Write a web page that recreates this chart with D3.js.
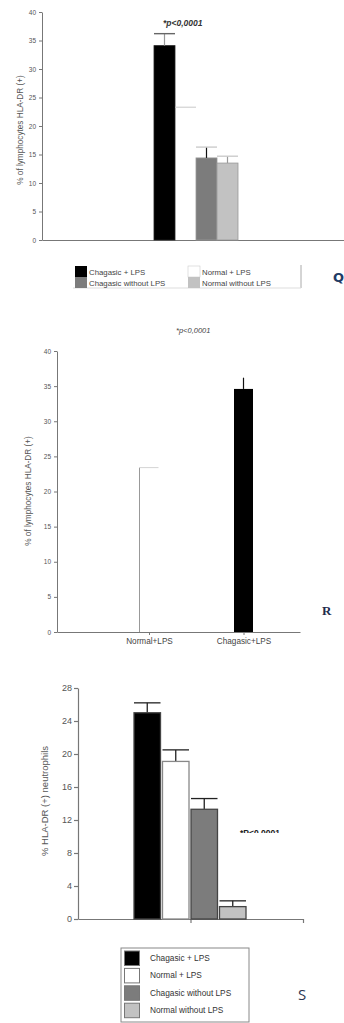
<!DOCTYPE html>
<html>
<head>
<meta charset="utf-8">
<script src="https://cdn.jsdelivr.net/npm/d3@7"></script>
<style>
  body { margin: 0; background: #fff; }
  svg { display: block; font-family: "Liberation Sans", Arial, sans-serif; }
</style>
</head>
<body>
<div id="chart"></div>
<script>
// --- data ---
const series = ["Chagasic + LPS", "Normal + LPS", "Chagasic without LPS", "Normal without LPS"];

// panel Q: lymphocytes
const meanQ = [34.1, 23.3, 14.4, 13.5];
const errQ = [36.2, null, 16.3, 14.7];
const ticksQ = [0, 5, 10, 15, 20, 25, 30, 35, 40];

// panel R
const catsR = ["Normal+LPS", "Chagasic+LPS"];
const meanR = [23.4, 34.6];
const errR = [null, 36.2];
const ticksR = [0, 5, 10, 15, 20, 25, 30, 35, 40];

// panel S: neutrophils
const meanS = [25.0, 19.1, 13.3, 1.5];
const errS = [26.2, 20.5, 14.6, 2.2];
const ticksS = [0, 4, 8, 12, 16, 20, 24, 28];

const fills = ["#000", "#fff", "#7c7c7c", "#c2c2c2"];
const axisCol = "#777";
const txtCol = "#555";

const svg = d3.select("#chart").append("svg")
  .attr("width", 344).attr("height", 1023);

function yAxis(g, y, ticks, fs) {
  g.call(d3.axisLeft(y).tickValues(ticks).tickSize(3).tickSizeOuter(0))
  g.select(".domain").attr("stroke", axisCol);
  g.selectAll(".tick line").attr("stroke", axisCol);
  g.selectAll(".tick text").attr("fill", txtCol).attr("font-size", fs)
    .attr("font-family", "Liberation Sans, Arial, sans-serif");
}

// ================= Q =================
{
  const y = d3.scaleLinear().domain([0, 40]).range([240, 12]);
  const x = d3.scaleBand().domain(series).range([154, 238]);
  const xl = d3.scaleLinear().domain([0, 1]).range([42, 344]);

  svg.append("g").attr("transform", "translate(42,0)").call(g => yAxis(g, y, ticksQ, 6.5));
  svg.append("g").attr("transform", "translate(0,240)")
    .call(d3.axisBottom(xl).tickValues([]).tickSizeOuter(0))
    .call(g => g.select(".domain").attr("stroke", axisCol));

  const bw = x.bandwidth();
  series.forEach((s, i) => {
    if (i === 1) {
      // white bar: only its top edge shows
      svg.append("line").attr("x1", x(s)).attr("x2", x(s) + bw)
        .attr("y1", y(meanQ[i])).attr("y2", y(meanQ[i])).attr("stroke", "#c8c8c8");
      return;
    }
    svg.append("rect").attr("x", x(s)).attr("y", y(meanQ[i]))
      .attr("width", bw).attr("height", y(0) - y(meanQ[i]))
      .attr("fill", fills[i]).attr("stroke", i === 0 ? "#222" : "#999").attr("stroke-width", 0.8);
    if (errQ[i] != null) {
      const cx = x(s) + bw / 2;
      svg.append("line").attr("x1", cx).attr("x2", cx)
        .attr("y1", y(meanQ[i])).attr("y2", y(errQ[i]))
        .attr("stroke", i === 2 ? "#111" : "#999").attr("stroke-width", 1.2);
      svg.append("line").attr("x1", x(s)).attr("x2", x(s) + bw)
        .attr("y1", y(errQ[i])).attr("y2", y(errQ[i]))
        .attr("stroke", i === 0 ? "#666" : "#ccc").attr("stroke-width", 1.4);
    }
  });

  svg.append("text").attr("x", 163).attr("y", 26)
    .attr("font-size", 8.5).attr("font-weight", "bold").attr("font-style", "italic")
    .attr("fill", "#333").text("*p<0,0001");

  svg.append("text").attr("transform", "translate(23,130) rotate(-90)")
    .attr("text-anchor", "middle").attr("font-size", 8.2).attr("fill", txtCol)
    .text("% of lymphocytes HLA-DR (+)");

  // legend
  const lg = svg.append("g");
  lg.append("line").attr("x1", 301).attr("x2", 301).attr("y1", 265).attr("y2", 288).attr("stroke", "#aaa");
  lg.append("line").attr("x1", 73).attr("x2", 301).attr("y1", 288).attr("y2", 288).attr("stroke", "#ddd");
  const pos = [[75, 266], [188, 266], [75, 277], [188, 277]];
  series.forEach((s, i) => {
    const [px, py] = pos[i];
    lg.append("rect").attr("x", px).attr("y", py).attr("width", 12).attr("height", 11)
      .attr("fill", fills[i]).attr("stroke", i === 1 ? "#ccc" : "none").attr("stroke-width", 0.6);
    lg.append("text").attr("x", px + 14).attr("y", py + 8.5)
      .attr("font-size", 7.8).attr("fill", "#444").text(s);
  });
  svg.append("text").attr("x", 333).attr("y", 282).attr("font-size", 13)
    .attr("font-weight", "bold").attr("fill", "#1f3b66")
    .attr("font-family", "DejaVu Sans, sans-serif").text("Q");
}

// ================= R =================
{
  const y = d3.scaleLinear().domain([0, 40]).range([632, 351]);
  const x = d3.scalePoint().domain(catsR).range([149, 243.5]);
  const xl = d3.scaleLinear().domain([0, 1]).range([57, 300]);
  const bw = 19;

  svg.append("g").attr("transform", "translate(57,0)").call(g => yAxis(g, y, ticksR, 6.5));
  svg.append("g").attr("transform", "translate(0,632)")
    .call(d3.axisBottom(xl).tickValues([]).tickSizeOuter(0))
    .call(g => g.select(".domain").attr("stroke", axisCol));
  svg.append("g").attr("transform", "translate(0,632)")
    .call(d3.axisBottom(x).tickSize(3).tickPadding(3))
    .call(g => {
      g.select(".domain").remove();
      g.selectAll(".tick line").attr("stroke", axisCol);
      g.selectAll(".tick text").attr("font-size", 8.2).attr("fill", "#444")
        .attr("font-family", "Liberation Sans, Arial, sans-serif");
    });

  catsR.forEach((c, i) => {
    const x0 = x(c) - bw / 2;
    if (i === 0) {
      svg.append("line").attr("x1", x0).attr("x2", x0).attr("y1", y(0)).attr("y2", y(meanR[i]))
        .attr("stroke", "#999");
      svg.append("line").attr("x1", x0).attr("x2", x0 + bw).attr("y1", y(meanR[i])).attr("y2", y(meanR[i]))
        .attr("stroke", "#d4d4d4");
      return;
    }
    svg.append("rect").attr("x", x0).attr("y", y(meanR[i]))
      .attr("width", bw).attr("height", y(0) - y(meanR[i])).attr("fill", "#000");
    if (errR[i] != null) {
      svg.append("line").attr("x1", x(c)).attr("x2", x(c))
        .attr("y1", y(meanR[i])).attr("y2", y(errR[i])).attr("stroke", "#111").attr("stroke-width", 1.2);
    }
  });

  svg.append("text").attr("x", 176).attr("y", 333)
    .attr("font-size", 7.5).attr("font-style", "italic").attr("fill", "#444").text("*p<0,0001");

  svg.append("text").attr("transform", "translate(31,491) rotate(-90)")
    .attr("text-anchor", "middle").attr("font-size", 8.2).attr("fill", txtCol)
    .text("% of lymphocytes HLA-DR (+)");

  svg.append("text").attr("x", 322).attr("y", 615).attr("font-size", 13)
    .attr("font-weight", "bold").attr("fill", "#1f2d4d")
    .attr("font-family", "Liberation Serif, serif").text("R");
}

// ================= S =================
{
  const y = d3.scaleLinear().domain([0, 28]).range([919, 688]);
  const x = d3.scaleBand().domain(series).range([134, 246]).paddingInner(0.07);
  const xl = d3.scaleLinear().domain([0, 2]).range([78, 303]);
  const bw = x.bandwidth();

  svg.append("g").attr("transform", "translate(78,0)").call(g => {
    yAxis(g, y, ticksS, 9);
    g.selectAll(".tick line").attr("x2", -4).attr("stroke-width", 1.2);
    g.select(".domain").attr("stroke-width", 1.2);
  });
  svg.append("g").attr("transform", "translate(0,919)")
    .call(d3.axisBottom(xl).tickValues([1, 2]).tickFormat("").tickSize(4).tickSizeOuter(0))
    .call(g => {
      g.select(".domain").attr("stroke", axisCol).attr("stroke-width", 1.2);
      g.selectAll(".tick line").attr("stroke", axisCol).attr("stroke-width", 1.2);
    });

  series.forEach((s, i) => {
    const x0 = x(s), cx = x0 + bw / 2;
    svg.append("line").attr("x1", cx).attr("x2", cx)
      .attr("y1", y(meanS[i])).attr("y2", y(errS[i])).attr("stroke", "#222").attr("stroke-width", 1.3);
    svg.append("line").attr("x1", x0).attr("x2", x0 + bw)
      .attr("y1", y(errS[i])).attr("y2", y(errS[i])).attr("stroke", "#222").attr("stroke-width", 1.3);
    svg.append("rect").attr("x", x0).attr("y", y(meanS[i]))
      .attr("width", bw).attr("height", y(0) - y(meanS[i]))
      .attr("fill", fills[i]).attr("stroke", i === 1 ? "#888" : "#444").attr("stroke-width", 1.3);
  });

  // partly hidden annotation
  svg.append("clipPath").attr("id", "clipS").append("rect")
    .attr("x", 230).attr("y", 828).attr("width", 70).attr("height", 5);
  svg.append("text").attr("x", 240).attr("y", 836).attr("clip-path", "url(#clipS)")
    .attr("font-size", 8.5).attr("font-weight", "bold").attr("fill", "#222").text("*P<0,0001");

  svg.append("text").attr("transform", "translate(48,801) rotate(-90)")
    .attr("text-anchor", "middle").attr("font-size", 9.5).attr("fill", txtCol)
    .text("% HLA-DR (+) neutrophils");

  const lg = svg.append("g");
  lg.append("rect").attr("x", 121).attr("y", 948).attr("width", 128).attr("height", 74)
    .attr("fill", "none").attr("stroke", "#888").attr("stroke-width", 1);
  series.forEach((s, i) => {
    const py = 951 + i * 17.4;
    lg.append("rect").attr("x", 124.5).attr("y", py).attr("width", 15).attr("height", 14.5)
      .attr("fill", fills[i]).attr("stroke", "#777").attr("stroke-width", 1);
    lg.append("text").attr("x", 150).attr("y", py + 10)
      .attr("font-size", 8.3).attr("fill", "#333").text(s);
  });
  svg.append("text").attr("x", 298).attr("y", 1000).attr("font-size", 15)
    .attr("fill", "#2a3552").attr("font-family", "Open Sans, sans-serif").text("S");
}
</script>
</body>
</html>
